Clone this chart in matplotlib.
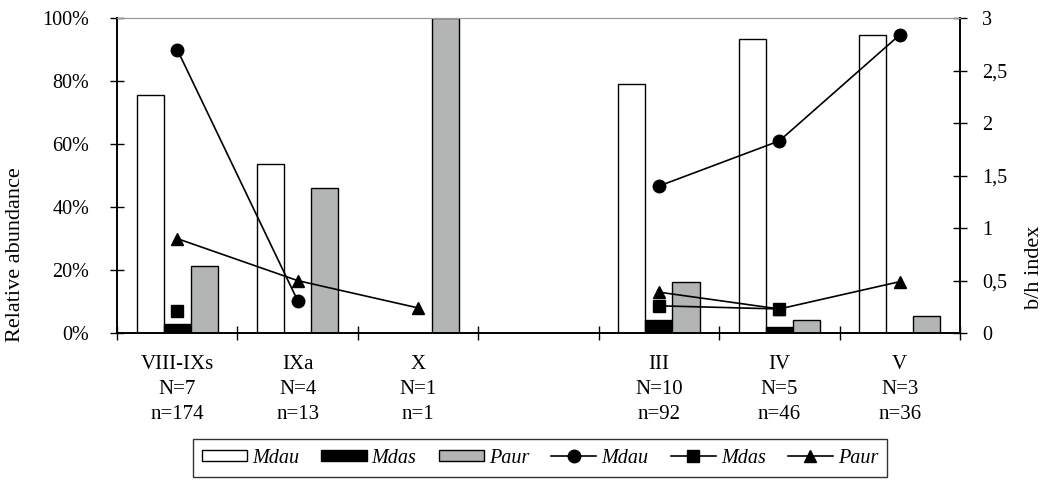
import numpy as np
import matplotlib.pyplot as plt
from matplotlib.ticker import FuncFormatter

plt.rcParams['font.family'] = ['Liberation Serif', 'DejaVu Serif']

# Categories and sample sizes
categories = ['VIII-IXs', 'IXa', 'X', '', 'III', 'IV', 'V']
big_n = ['N=7', 'N=4', 'N=1', '', 'N=10', 'N=5', 'N=3']
small_n = ['n=174', 'n=13', 'n=1', '', 'n=92', 'n=46', 'n=36']

# Relative abundance (%) - bars
mdau_pct = [75.7, 53.8, 0, np.nan, 79.0, 93.3, 94.6]
mdas_pct = [2.8, 0, 0, np.nan, 4.3, 2.1, 0]
paur_pct = [21.3, 46.0, 100.0, np.nan, 16.3, 4.1, 5.4]

# b/h index - lines
mdau_bh = [2.70, 0.31, np.nan, np.nan, 1.40, 1.83, 2.84]
mdas_bh = [0.21, np.nan, np.nan, np.nan, 0.26, 0.23, np.nan]
paur_bh = [0.90, 0.50, 0.24, np.nan, 0.39, 0.23, 0.49]

gray = '#b3b5b5'
x = np.arange(len(categories))
w = 0.225

fig = plt.figure(figsize=(10.51, 4.8), dpi=100)
ax = fig.add_axes([0.1113, 0.306, 0.8021, 0.6565])

ax.bar(x - w, mdau_pct, w, color='white', edgecolor='black', linewidth=1, label='Mdau')
ax.bar(x, mdas_pct, w, color='black', edgecolor='black', linewidth=1, label='Mdas')
ax.bar(x + w, paur_pct, w, color=gray, edgecolor='black', linewidth=1, label='Paur')

ax.set_xlim(-0.5, len(categories) - 0.5)
ax.set_ylim(0, 100)
ax.set_yticks(np.arange(0, 101, 20))
ax.yaxis.set_major_formatter(FuncFormatter(lambda v, p: f'{v:.0f}%'))
ax.set_ylabel('Relative abundance', fontsize=16)
ax.yaxis.set_label_coords(-0.109, 0.25)

ax.set_xticks(np.arange(-0.5, len(categories), 1))
ax.set_xticklabels([])
ax.set_xticks(x, minor=True)
ax.set_xticklabels([f'{c}\n{a}\n{b}' for c, a, b in zip(categories, big_n, small_n)],
                   minor=True, linespacing=1.45)
ax.tick_params(axis='x', which='minor', length=0, labelsize=15, pad=15.5)
ax.tick_params(axis='x', which='major', direction='inout', length=10, width=1)
ax.tick_params(axis='y', direction='inout', length=10, width=1, labelsize=14.5, pad=15)

ax2 = ax.twinx()
ax2.plot(x, mdau_bh, color='black', lw=1.2, marker='o', ms=9, label='Mdau')
ax2.plot(x, mdas_bh, color='black', lw=1.2, marker='s', ms=8, label='Mdas')
ax2.plot(x, paur_bh, color='black', lw=1.2, marker='^', ms=8.5, label='Paur')
ax2.set_ylim(0, 3)
ax2.set_yticks(np.arange(0, 3.01, 0.5))
ax2.yaxis.set_major_formatter(FuncFormatter(lambda v, p: f'{v:g}'.replace('.', ',')))
ax2.set_ylabel('b/h index', fontsize=16)
ax2.yaxis.set_label_coords(1.0771, 0.21)
ax2.tick_params(axis='y', direction='inout', length=10, width=1, labelsize=14.5, pad=11)

for a in (ax, ax2):
    a.spines['top'].set_color('#999999')
    a.spines['left'].set_linewidth(1.2)
    a.spines['right'].set_linewidth(1.2)
    a.spines['bottom'].set_linewidth(1.2)

h1, l1 = ax.get_legend_handles_labels()
h2, l2 = ax2.get_legend_handles_labels()
leg = fig.legend(h1 + h2, l1 + l2, ncol=6, loc='upper left', bbox_to_anchor=(0.1836, 0.0844),
                 borderaxespad=0, frameon=True, fancybox=False, edgecolor='black',
                 handlelength=2.24, handleheight=0.45, handletextpad=0.25,
                 columnspacing=1.1, borderpad=0.45,
                 prop={'style': 'italic', 'size': 14.5})
leg.get_frame().set_linewidth(1)

fig.savefig('out.png', dpi=100)
